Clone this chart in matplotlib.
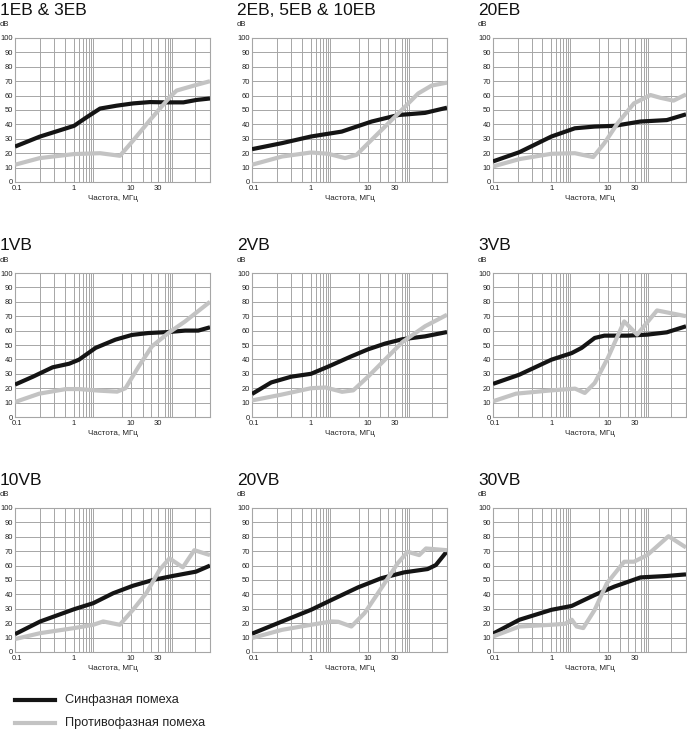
import matplotlib
matplotlib.use("Agg")
import matplotlib.pyplot as plt


# ── Data (frequency in MHz, level in dB) ─────────────────────────────────────
# cm = синфазная помеха (black), dm = противофазная помеха (gray)

p1_cm_f = [0.092, 0.25, 1.0, 1.67, 2.86, 5.6, 11, 21.5, 42, 83, 142, 243]
p1_cm_db = [24.6, 31.5, 39, 45, 51, 53, 54.6, 55.5, 55.3, 55.3, 57, 58]
p1_dm_f = [0.092, 0.25, 1.0, 2.86, 6.4, 11, 21.5, 48, 63, 142, 243]
p1_dm_db = [12, 16.6, 19.4, 20, 18.2, 29, 43, 59, 63.5, 67.5, 70]

p2_cm_f = [0.092, 0.31, 1.0, 3.45, 11.6, 34, 100, 243]
p2_cm_db = [22.8, 27, 31.6, 35, 42, 46.5, 48, 51.6]
p2_dm_f = [0.092, 0.31, 1.0, 2.0, 3.95, 6.3, 10.1, 19.9, 39, 76, 131, 243]
p2_dm_db = [12, 17.7, 20.5, 19.6, 16.6, 18.9, 27, 38.5, 50, 61.5, 67, 69]

p3_cm_f = [0.092, 0.27, 1.0, 2.6, 5.85, 13, 38, 111, 243]
p3_cm_db = [14.3, 20.7, 31.6, 37.3, 38.5, 39, 42, 43, 47]
p3_dm_f = [0.092, 0.27, 1.0, 2.6, 5.5, 8.7, 14.9, 29, 57, 85, 146, 243]
p3_dm_db = [10.8, 15.9, 19.6, 20, 17.3, 27, 40.8, 54.6, 60.4, 58.5, 56.5, 60.8]

p4_cm_f = [0.092, 0.19, 0.42, 0.82, 1.22, 2.39, 5.3, 10.4, 20, 45, 89, 151, 243]
p4_cm_db = [22.5, 28, 34.5, 37, 39.8, 48, 53.7, 57, 58.3, 59, 60, 60, 62.3]
p4_dm_f = [0.092, 0.245, 0.72, 1.22, 2.73, 5.7, 8, 13.6, 23.2, 45, 89, 243]
p4_dm_db = [10.4, 16.2, 19.4, 19.4, 18.3, 17.6, 20, 35, 49, 58.3, 66.4, 80]

p5_cm_f = [0.092, 0.2, 0.45, 1.0, 2.0, 5, 10, 20, 40, 100, 243]
p5_cm_db = [16, 24, 28, 30, 35, 42, 47, 51, 54, 56, 59]
p5_dm_f = [0.092, 0.3, 1.0, 1.8, 3.5, 5.5, 10, 20, 40, 100, 243]
p5_dm_db = [11.5, 15.5, 20, 20.5, 17.5, 18.5, 28, 40, 52, 63, 71]

p6_cm_f = [0.092, 0.27, 1.0, 2.29, 3.43, 5.85, 8.7, 22.3, 50, 111, 243]
p6_cm_db = [23, 29.4, 39.8, 44.4, 48, 54.9, 56.5, 56.5, 57.2, 58.8, 63]
p6_dm_f = [0.092, 0.235, 1.0, 2.62, 3.9, 5.85, 10, 19.5, 33, 74.5, 243]
p6_dm_db = [10.9, 16.2, 18.5, 19.7, 16.7, 23.6, 41, 66.4, 57.2, 74, 70]

p7_cm_f = [0.092, 0.255, 1.0, 2.17, 4.85, 10.8, 24.2, 54, 138, 243]
p7_cm_db = [12.4, 21.2, 29.7, 33.9, 40.8, 46, 50, 52.8, 55.8, 60]
p7_dm_f = [0.092, 0.255, 1.0, 2.17, 3.25, 6.35, 10.8, 18.5, 31.7, 47.2, 81, 129, 243]
p7_dm_db = [9, 13.1, 16.6, 18.9, 21.2, 18.9, 29.3, 40.8, 57, 65, 58.8, 70.7, 67.3]

p8_cm_f = [0.092, 0.31, 1.0, 2.3, 6.7, 17, 43, 111, 155, 243]
p8_cm_db = [12.7, 21.2, 29.3, 36.2, 44.9, 51.2, 55.3, 57.6, 60.4, 70]
p8_dm_f = [0.092, 0.31, 1.0, 2.3, 3.0, 5.1, 8.7, 19.5, 33, 49.5, 79, 104, 243]
p8_dm_db = [9.7, 15.4, 18.9, 21.2, 21, 17.7, 27, 47.7, 61.5, 69.6, 67.3, 71.9, 70.7]

p9_cm_f = [0.092, 0.27, 1.0, 2.29, 5.85, 13, 38, 111, 243]
p9_cm_db = [12.7, 22.4, 29.3, 32, 39.6, 45.4, 51.8, 52.8, 53.9]
p9_dm_f = [0.092, 0.27, 1.0, 1.75, 2.29, 2.8, 3.66, 5.85, 9.6, 19.5, 29, 50, 119, 243]
p9_dm_db = [10.8, 17.7, 18.9, 19.6, 22.4, 17.7, 16.6, 29.3, 47.7, 62.7, 62.7, 67.3, 80.4, 72.6]

TITLES = ["1EB & 3EB", "2EB, 5EB & 10EB", "20EB",
          "1VB", "2VB", "3VB",
          "10VB", "20VB", "30VB"]

CURVES = [
    (p1_cm_f, p1_cm_db, p1_dm_f, p1_dm_db),
    (p2_cm_f, p2_cm_db, p2_dm_f, p2_dm_db),
    (p3_cm_f, p3_cm_db, p3_dm_f, p3_dm_db),
    (p4_cm_f, p4_cm_db, p4_dm_f, p4_dm_db),
    (p5_cm_f, p5_cm_db, p5_dm_f, p5_dm_db),
    (p6_cm_f, p6_cm_db, p6_dm_f, p6_dm_db),
    (p7_cm_f, p7_cm_db, p7_dm_f, p7_dm_db),
    (p8_cm_f, p8_cm_db, p8_dm_f, p8_dm_db),
    (p9_cm_f, p9_cm_db, p9_dm_f, p9_dm_db),
]

X_TICKS = [0.1, 1, 10, 30]
X_TICK_LABELS = ["0.1", "1", "10", "30"]
Y_TICKS = list(range(0, 101, 10))

LEGEND_LABELS = ["Синфазная помеха", "Противофазная помеха"]


# ── Style ────────────────────────────────────────────────────────────────────

W, H = 687, 730
BLACK = "#141414"
GRAY = "#c3c3c3"
GRID = "#a6a6a6"
FONT = ["Liberation Sans", "DejaVu Sans"]

# the printed grid does not follow the tick labels, so its lines are listed here
GRID_F = [0.253, 0.444, 0.694, 1.0, 1.22, 1.44, 1.62, 1.83, 1.98, 2.15,
          6.9, 10, 16.2, 22.4, 30, 39.4, 44.5, 48, 52, 132]

COL_LEFT = [15, 252, 493]     # px from left
ROW_TOP = [38, 273, 508]      # px from top
AX_W, AX_H = 195, 144


def px_box(left, top, w, h):
    return [left / W, (H - top - h) / H, w / W, h / H]


def draw_panel(fig, left, top, title, curve):
    cm_f, cm_db, dm_f, dm_db = curve
    ax = fig.add_axes(px_box(left, top, min(AX_W, W - left - 1), AX_H))
    ax.set_xscale("log")
    ax.set_xlim(0.092, 243)
    ax.set_ylim(0, 100)

    for f in GRID_F:
        ax.axvline(f, color=GRID, lw=0.7, zorder=1)
    for y in Y_TICKS[1:-1]:
        ax.axhline(y, color=GRID, lw=0.7, zorder=1)

    ax.plot(cm_f, cm_db, color=BLACK, lw=3.0, solid_capstyle="butt",
            solid_joinstyle="round", zorder=3)
    ax.plot(dm_f, dm_db, color=GRAY, lw=3.0, solid_capstyle="butt",
            solid_joinstyle="round", zorder=4)

    ax.xaxis.set_minor_locator(matplotlib.ticker.NullLocator())
    ax.set_xticks(X_TICKS)
    ax.set_xticklabels(X_TICK_LABELS, family=FONT, fontsize=5.5)
    ax.set_yticks(Y_TICKS)
    ax.set_yticklabels([str(v) for v in Y_TICKS], family=FONT, fontsize=5.4)
    ax.tick_params(axis="x", length=0, pad=2, colors="#222222")
    ax.tick_params(axis="y", length=0, pad=1.5, colors="#222222")
    for s in ax.spines.values():
        s.set_color(GRID)
        s.set_linewidth(0.8)

    ax.set_xlabel("Частота, МГц", family=FONT, fontsize=5.8, labelpad=2,
                  color="#222222")

    fig.text((left - 15) / W, 1 - (top - 23) / H, title, family=FONT,
             fontsize=12.5, va="baseline", ha="left", color="#111111")
    fig.text((left - 15) / W, 1 - (top - 13) / H, "dB", family=FONT,
             fontsize=5.5, va="center", ha="left", color="#222222")
    return ax


# ── Main ─────────────────────────────────────────────────────────────────────

if __name__ == "__main__":
    fig = plt.figure(figsize=(W / 100, H / 100), dpi=100)

    for i, (title, curve) in enumerate(zip(TITLES, CURVES)):
        draw_panel(fig, COL_LEFT[i % 3], ROW_TOP[i // 3], title, curve)

    # legend drawn by hand, bottom-left
    for k, (label, color) in enumerate(zip(LEGEND_LABELS, [BLACK, GRAY])):
        y = 1 - (700 + 23 * k) / H
        fig.add_artist(matplotlib.lines.Line2D([15 / W, 55 / W], [y, y],
                                               color=color, lw=3.0))
        fig.text(65 / W, y, label, family=FONT, fontsize=9.2, va="center",
                 ha="left", color="#222222")

    fig.savefig("out.png", dpi=100)
